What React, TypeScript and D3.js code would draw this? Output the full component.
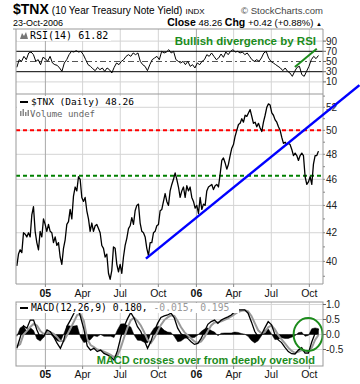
import React from 'react';
import * as d3 from 'd3';

// ---------- DATA ----------
const priceValues = [39.7,40.5,40.8,40.6,42.0,41.9,41.7,42.0,41.7,43.3,
 43.9,42.1,41.3,40.8,42.1,41.7,43.0,42.6,42.1,42.6,
 42.1,42.0,41.3,41.7,41.1,41.3,40.3,39.8,40.9,41.5,
 42.6,42.8,43.7,43.0,44.7,45.4,45.1,46.2,46.0,44.6,
 44.3,44.6,43.6,43.0,42.1,42.7,42.1,42.5,42.6,42.3,
 42.0,41.1,40.9,40.3,40.5,39.2,38.8,39.4,41.0,40.9,
 39.8,39.3,39.8,39.2,40.3,41.1,41.6,42.3,42.5,43.1,
 42.6,43.6,44.0,44.1,42.7,42.1,42.0,41.7,40.9,40.4,
 41.3,41.3,42.0,42.1,42.5,42.6,43.6,43.7,44.3,44.9,
 44.3,44.0,45.1,45.6,46.0,46.5,46.0,45.4,44.6,45.1,
 45.4,44.6,45.5,45.1,45.4,44.6,44.3,43.8,44.0,43.4,
 44.6,43.7,44.1,44.0,45.1,45.4,45.5,45.6,45.2,45.5,
 45.6,45.4,46.4,47.5,47.7,47.3,46.8,47.2,47.9,48.5,
 48.8,49.5,50.0,50.5,50.6,51.0,50.7,51.3,51.2,51.5,
 51.8,51.2,50.6,50.7,50.3,50.6,50.2,49.9,50.7,51.3,
 52.0,52.3,52.2,51.5,51.3,50.9,50.7,50.3,50.0,49.4,
 48.9,49.0,48.8,48.9,48.8,48.4,47.9,48.1,47.9,47.5,
 47.9,48.1,47.9,46.2,45.6,45.8,46.2,45.6,47.2,47.9,
 47.9,48.26];

const rsiValues = [38.6,53.6,50.3,60.1,53.6,66.7,68.6,63.4,50.3,53.6,
 43.8,58.2,55.6,50.3,60.1,47.1,43.8,42.5,37.3,30.7,
 47.1,53.6,63.4,69.9,68.6,71.2,68.6,69.9,63.4,53.6,
 43.8,40.5,35.9,32.0,38.6,34.0,37.3,30.7,37.3,34.0,
 27.5,38.6,47.1,43.8,50.3,53.6,60.1,63.4,60.1,66.7,
 63.4,66.7,50.3,43.8,40.5,32.0,43.8,53.6,56.9,60.1,
 53.6,69.9,66.7,68.6,73.2,66.7,69.9,53.6,50.3,47.1,
 50.3,43.8,50.3,40.5,43.8,37.3,47.1,43.8,50.3,53.6,
 63.4,60.1,66.7,60.1,53.6,56.9,64.7,58.2,68.6,63.4,
 69.9,73.2,68.6,69.9,66.7,68.6,63.4,66.7,60.1,53.6,
 50.3,53.6,50.3,56.9,66.7,69.9,56.9,50.3,47.1,43.8,
 40.5,37.3,32.0,37.3,30.7,27.5,20.9,30.7,38.6,40.5,
 24.2,20.9,30.7,40.5,53.6,60.1,55.6,61.82];

const macdValues = [-0.46,-0.10,0.29,0.21,0.48,0.48,0.15,-0.10,-0.07,0.15,
 0.09,-0.07,-0.29,-0.46,-0.20,0.28,0.48,0.70,0.95,0.59,
 0.18,-0.38,-0.52,-0.46,-0.57,-0.52,-0.63,-0.68,-0.74,-0.85,
 -0.55,-0.10,0.26,0.52,0.73,0.54,0.26,0.10,-0.18,-0.46,
 -0.23,0.10,0.37,0.57,0.62,0.65,0.71,0.55,0.21,0.02,
 -0.05,-0.13,-0.24,-0.33,-0.30,-0.13,0.10,0.34,0.43,0.48,
 0.37,0.48,0.54,0.59,0.65,0.76,0.82,0.82,0.82,0.71,
 0.42,0.10,-0.07,0.00,0.22,0.43,0.32,0.00,-0.18,-0.27,
 -0.43,-0.57,-0.64,-0.65,-0.52,-0.44,-0.62,-0.62,-0.25,0.04,
 0.18];

const signalValues = [-0.40,-0.32,0.00,0.12,0.25,0.35,0.30,0.12,0.02,0.05,
 0.07,0.02,-0.08,-0.22,-0.22,-0.02,0.20,0.42,0.65,0.68,
 0.45,-0.15,-0.35,-0.42,-0.50,-0.52,-0.57,-0.62,-0.68,-0.75,
 -0.70,-0.45,-0.10,0.22,0.48,0.56,0.45,0.30,0.08,-0.18,
 -0.28,-0.12,0.10,0.32,0.48,0.57,0.64,0.62,0.45,0.24,
 0.08,-0.03,-0.13,-0.23,-0.28,-0.23,-0.08,0.12,0.30,0.40,
 0.41,0.44,0.49,0.54,0.60,0.68,0.75,0.79,0.81,0.77,
 0.62,0.38,0.14,0.04,0.08,0.24,0.30,0.17,-0.02,-0.16,
 -0.30,-0.44,-0.55,-0.61,-0.58,-0.52,-0.56,-0.59,-0.44,-0.18,
 -0.015];

const seriesStart = '2004-10-24';
const seriesEnd = '2006-10-23';
const xDomain = ['2004-10-22', '2006-11-03'];

const tickDates = ['2005-01-01','2005-04-01','2005-07-01','2005-10-01','2006-01-01','2006-04-01','2006-07-01','2006-10-01'];
const tickLabels = ['05','Apr','Jul','Oct','06','Apr','Jul','Oct'];
const yearTicks = ['05','06'];

const priceTicks = [40,42,44,46,48,50,52];
const priceMinor = [39,40,41,42,43,44,45,46,47,48,49,50,51,52,53];
const rsiTicks = [90,70,50,30,10];
const macdTicks = [1.0,0.5,0.0,-0.5];
const macdTickLabels = ['1.0','0.5','0.0','-0.5'];

const resistanceLevel = 50;
const supportLevel = 46.28;
const trendDates = ['2005-09-01','2007-01-30'];
const trendValues = [40.19, 54.0];
const rsiTrendDates = ['2006-08-27','2006-10-19'];
const rsiTrendValues = [39.2, 75.1];
const circleDate = '2006-09-28';
const circleValue = 0.0;

// ---------- LAYOUT ----------
const W = 360, H = 384;
const L = 16, R = 323;
const RSI_TOP = 29, RSI_BOT = 94;
const MAIN_TOP = 94, MAIN_BOT = 284;
const MACD_TOP = 302, MACD_BOT = 366;

const parse = d3.timeParse('%Y-%m-%d');
const x = d3.scaleTime().domain(xDomain.map(d => parse(d)!)).range([L, R]);
const yMain = d3.scaleLog().domain([38.49, 53.19]).range([MAIN_BOT, MAIN_TOP]);
const yRsi = d3.scaleLinear().domain([0, 100]).range([87, 36]);
const yMacd = d3.scaleLinear().domain([-1.05, 1.083]).range([MACD_BOT, MACD_TOP]);

function spread(n: number): Date[] {
  const t0 = parse(seriesStart)!.getTime();
  const t1 = parse(seriesEnd)!.getTime();
  return d3.range(n).map(i => new Date(t0 + (t1 - t0) * i / (n - 1)));
}

const priceDates = spread(priceValues.length);
const rsiDates = spread(rsiValues.length);
const macdDates = spread(macdValues.length);

const GREEN = '#1c8c1c';
const MONO = '"DejaVu Sans Mono", monospace';
const SANS = '"Liberation Sans", Arial, sans-serif';

export default function App() {
  const priceLine = d3.line<number>().x((_, i) => x(priceDates[i])).y(d => yMain(d))(priceValues)!;
  const rsiLine = d3.line<number>().x((_, i) => x(rsiDates[i])).y(d => yRsi(d))(rsiValues)!;
  const macdLine = d3.line<number>().x((_, i) => x(macdDates[i])).y(d => yMacd(d))(macdValues)!;
  const sigLine = d3.line<number>().x((_, i) => x(macdDates[i])).y(d => yMacd(d))(signalValues)!;
  const hist = macdValues.map((m, i) => m - signalValues[i]);
  const histArea = d3.area<number>().x((_, i) => x(macdDates[i])).y0(yMacd(0)).y1(d => yMacd(d))(hist)!;

  const ticks = tickDates.map((d, i) => ({ x: x(parse(d)!), label: tickLabels[i], year: yearTicks.includes(tickLabels[i]) }));

  const vGrid = (top: number, bot: number, key: string) => ticks.map((t, i) => (
    <line key={key + i} x1={t.x} x2={t.x} y1={top} y2={bot} stroke={t.year ? '#a8a8a8' : '#d4d4d4'} strokeWidth={1} />
  ));

  const xLabels = (y: number, key: string) => ticks.map((t, i) => (
    <text key={key + i} x={t.x} y={y} textAnchor="middle" fontFamily={SANS} fontSize={10.5} fontWeight={t.year ? 'bold' : 'normal'} fill="#111">{t.label}</text>
  ));

  const tx0 = x(parse(trendDates[0])!), tx1 = x(parse(trendDates[1])!);
  const rx0 = x(parse(rsiTrendDates[0])!), rx1 = x(parse(rsiTrendDates[1])!);

  return (
    <svg width={W} height={H} style={{ position: 'absolute', left: 0, top: 0, background: '#fff' }}>
      <rect x={0} y={0} width={W} height={H} fill="#fff" />
      {/* Header */}
      <text x={13} y={14} fontFamily={SANS} fill="#000">
        <tspan fontSize={14} fontWeight="bold">$TNX</tspan>
        <tspan fontSize={10} dx={3}>(10 Year Treasury Note Yield)</tspan>
        <tspan fontSize={8} dx={3}>INDX</tspan>
      </text>
      <text x={323} y={14} textAnchor="end" fontFamily={SANS} fontSize={9.5} fill="#444">© StockCharts.com</text>
      <text x={13} y={26} fontFamily={SANS} fontSize={9} fill="#000">23-Oct-2006</text>
      <text x={322} y={26} textAnchor="end" fontFamily={SANS} fill="#000" fontSize={9.5}>
        <tspan fontWeight="bold" fontSize={10.5}>Close</tspan>
        <tspan> 48.26 </tspan>
        <tspan fontWeight="bold" fontSize={10.5}>Chg</tspan>
        <tspan> +0.42 (+0.88%) </tspan>
        <tspan fontSize={6}>▲</tspan>
      </text>

      {/* RSI panel */}
      <g>
        {rsiTicks.filter(t => t === 90 || t === 10).map(t => (
          <line key={'rg' + t} x1={L} x2={R} y1={yRsi(t)} y2={yRsi(t)} stroke="#d4d4d4" />
        ))}
        {vGrid(RSI_TOP, RSI_BOT, 'rv')}
        <line x1={L} x2={R} y1={yRsi(70)} y2={yRsi(70)} stroke="#000" strokeWidth={1} />
        <line x1={L} x2={R} y1={yRsi(30)} y2={yRsi(30)} stroke="#000" strokeWidth={1} />
        <line x1={L} x2={R} y1={yRsi(50)} y2={yRsi(50)} stroke="#555" strokeWidth={1} strokeDasharray="6,3,2,3" />
        <path d={rsiLine} fill="none" stroke="#000" strokeWidth={1} />
        <line x1={rx0} y1={yRsi(rsiTrendValues[0])} x2={rx1} y2={yRsi(rsiTrendValues[1])} stroke={GREEN} strokeWidth={2} />
        <rect x={L + 1} y={RSI_TOP + 1} width={94} height={11} fill="#fff" />
        <path d={`M${L + 4},${RSI_TOP + 10} l2,-6 l2,3 l2,-4 l2,7 z`} fill="#777" />
        <text x={L + 14} y={RSI_TOP + 10} fontFamily={MONO} fontSize={10} fill="#000">RSI(14) 61.82</text>
        <text x={316} y={45} textAnchor="end" fontFamily={SANS} fontSize={11.5} fontWeight="bold" fill={GREEN}>Bullish divergence by RSI</text>
        <line x1={13} x2={R} y1={RSI_TOP} y2={RSI_TOP} stroke="#999" />
        <line x1={L} x2={L} y1={RSI_TOP} y2={RSI_BOT} stroke="#999" />
        <line x1={R} x2={R} y1={RSI_TOP} y2={RSI_BOT} stroke="#999" />
        {rsiTicks.map(t => (
          <g key={'rt' + t}>
            <line x1={R} x2={R + 3} y1={yRsi(t)} y2={yRsi(t)} stroke="#666" />
            <text x={R + 3} y={yRsi(t)} dy="0.35em" fontFamily={SANS} fontSize={10} fill="#222">{t}</text>
          </g>
        ))}
      </g>

      {/* Main panel */}
      <g>
        {priceTicks.map(t => (
          <line key={'mg' + t} x1={L} x2={R} y1={yMain(t)} y2={yMain(t)} stroke="#d4d4d4" />
        ))}
        {vGrid(MAIN_TOP, MAIN_BOT, 'mv')}
        <line x1={L} x2={R} y1={yMain(resistanceLevel)} y2={yMain(resistanceLevel)} stroke="#ff0000" strokeWidth={2} strokeDasharray="4,3" />
        <line x1={L} x2={R} y1={yMain(supportLevel)} y2={yMain(supportLevel)} stroke="#008000" strokeWidth={2} strokeDasharray="4,3" />
        <path d={priceLine} fill="none" stroke="#000" strokeWidth={1.3} strokeLinejoin="round" />
        <rect x={L + 1} y={MAIN_TOP + 2} width={118} height={10} fill="#fff" />
        <rect x={L + 1} y={MAIN_TOP + 12} width={75} height={11} fill="#fff" />
        <rect x={L + 4} y={MAIN_TOP + 7} width={8} height={2} fill="#000" />
        <text x={L + 15} y={MAIN_TOP + 11} fontFamily={MONO} fontSize={9.5} fill="#000">$TNX (Daily) 48.26</text>
        <g fill="#888">
          <rect x={L + 4} y={MAIN_TOP + 17} width={1.5} height={5} />
          <rect x={L + 6.5} y={MAIN_TOP + 15} width={1.5} height={7} />
          <rect x={L + 9} y={MAIN_TOP + 18} width={1.5} height={4} />
          <rect x={L + 11.5} y={MAIN_TOP + 16} width={1.5} height={6} />
        </g>
        <text x={L + 14} y={MAIN_TOP + 22.5} fontFamily={MONO} fontSize={9} fill="#666">Volume undef</text>
        <line x1={L} x2={R} y1={MAIN_TOP} y2={MAIN_TOP} stroke="#999" />
        <line x1={L} x2={R} y1={MAIN_BOT} y2={MAIN_BOT} stroke="#999" />
        <line x1={L} x2={L} y1={MAIN_TOP} y2={MAIN_BOT} stroke="#999" />
        <line x1={R} x2={R} y1={MAIN_TOP} y2={MAIN_BOT} stroke="#999" />
        {priceMinor.map(t => (
          <line key={'mm' + t} x1={R} x2={R + 2} y1={yMain(t)} y2={yMain(t)} stroke="#888" />
        ))}
        {priceTicks.map(t => (
          <text key={'ml' + t} x={R + 3} y={yMain(t)} dy="0.35em" fontFamily={SANS} fontSize={10} fill="#222">{t}</text>
        ))}
        {ticks.map((t, i) => (
          <line key={'mt' + i} x1={t.x} x2={t.x} y1={MAIN_BOT} y2={MAIN_BOT + 3} stroke="#888" />
        ))}
        {xLabels(297, 'xl1')}
        <line x1={tx0} y1={yMain(trendValues[0])} x2={tx1} y2={yMain(trendValues[1])} stroke="#0000ff" strokeWidth={2.5} />
      </g>

      {/* MACD panel */}
      <g>
        {macdTicks.map(t => (
          <line key={'cg' + t} x1={L} x2={R} y1={yMacd(t)} y2={yMacd(t)} stroke="#d8d8d8" />
        ))}
        {vGrid(MACD_TOP, MACD_BOT, 'cv')}
        <path d={histArea} fill="#000" stroke="#000" strokeWidth={0.5} />
        <path d={sigLine} fill="none" stroke="#999" strokeWidth={2} />
        <path d={macdLine} fill="none" stroke="#000" strokeWidth={1.3} />
        <rect x={L + 1} y={MACD_TOP + 1} width={222} height={10} fill="#fff" />
        <rect x={L + 4} y={MACD_TOP + 5} width={8} height={2} fill="#000" />
        <text x={L + 15} y={MACD_TOP + 9} fontFamily={MONO} fontSize={9.7} fill="#000">
          <tspan>MACD(12,26,9) 0.180, </tspan>
          <tspan fill="#999">-0.015, 0.195</tspan>
        </text>
        <ellipse cx={x(parse(circleDate)!)} cy={yMacd(circleValue)} rx={14.5} ry={16.5} fill="none" stroke={GREEN} strokeWidth={2} />
        <text x={315} y={364} textAnchor="end" fontFamily={SANS} fontSize={11} fontWeight="bold" fill={GREEN}>MACD crosses over from deeply oversold</text>
        <rect x={L} y={MACD_TOP} width={R - L} height={MACD_BOT - MACD_TOP} fill="none" stroke="#999" />
        {macdTicks.map((t, i) => (
          <g key={'ct' + t}>
            <line x1={R} x2={R + 3} y1={yMacd(t)} y2={yMacd(t)} stroke="#666" />
            <text x={R + 3} y={yMacd(t)} dy="0.35em" fontFamily={SANS} fontSize={10} fill="#222">{macdTickLabels[i]}</text>
          </g>
        ))}
        {ticks.map((t, i) => (
          <line key={'ct2' + i} x1={t.x} x2={t.x} y1={MACD_BOT} y2={MACD_BOT + 3} stroke="#888" />
        ))}
        {xLabels(378, 'xl2')}
      </g>
    </svg>
  );
}
